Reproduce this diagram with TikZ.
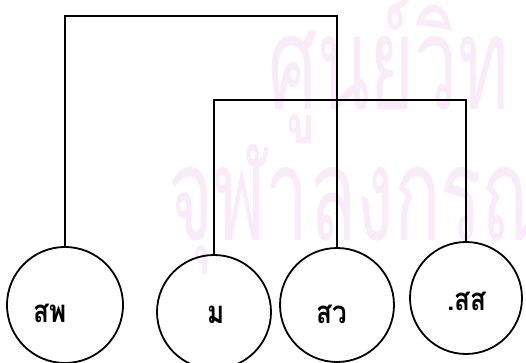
\documentclass[tikz,border=0pt]{standalone}
\usepackage{fontspec}
\newfontfamily\thaifont[Script=Thai]{Loma}
\definecolor{wmpink}{RGB}{249,235,247}
\begin{document}
\begin{tikzpicture}[x=1pt,y=-1pt,
  circ/.style={draw,circle,line width=1.8pt,minimum size=#1,inner sep=0pt},
  conn/.style={line width=1.6pt},
  lbl/.style={font=\thaifont\bfseries\fontsize{26}{26}\selectfont,inner sep=0pt,anchor=base,yscale=1.2,transform shape},
  wm/.style={font=\thaifont\fontsize{100}{100}\selectfont,text=wmpink,inner sep=0pt,text depth=0pt,anchor=base west,xscale=0.77,yscale=1.3,transform shape}]
\useasboundingbox (0,0) rectangle (526,363);
\node[wm] (wm1) at (268,110) {ศูนย์วิท};
\node[wm] (wm2) at (168,240) {จุฬาลงกรณ};
\node[circ=116pt] (spw) at (65,305) {};
\node[circ=114pt] (m) at (214,312) {};
\node[circ=114pt] (sw) at (337,305) {};
\node[circ=112pt] (ss) at (466,298) {};
\node[lbl] (lspw) at (50,322) {สพ};
\node[lbl] (lm) at (216,323) {ม};
\node[lbl] (lsw) at (332,323) {สว};
\node[lbl] (lss) at (467,310) {.สส};
\coordinate (t1) at (0,16);
\coordinate (t2) at (0,100);
\draw[conn] (spw.north) -- (spw.north |- t1) -- (sw.north |- t1) -- (sw.north);
\draw[conn] (m.north) -- (m.north |- t2) -- (ss.north |- t2) -- (ss.north);
\end{tikzpicture}
\end{document}
